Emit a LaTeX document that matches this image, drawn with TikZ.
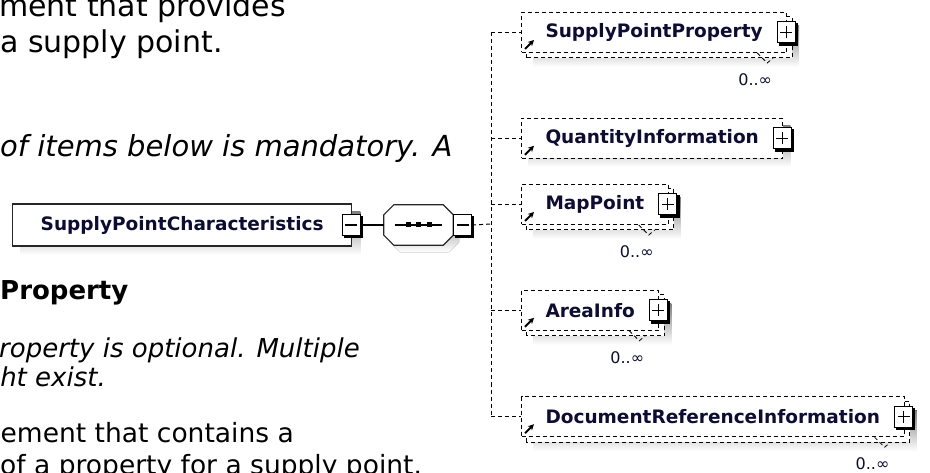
\documentclass[tikz,border=0pt]{standalone}
\usepackage{fontspec}
\setmainfont{DejaVu Sans}
\usetikzlibrary{positioning,arrows.meta,backgrounds,calc}
\definecolor{ink}{RGB}{12,12,52}
\definecolor{shade}{RGB}{192,192,192}
\newcommand{\px}[1]{\fontsize{#1}{#1}\selectfont}
\newcommand{\octpath}[1]{([xshift=10pt]#1.north west) -- ([xshift=-10pt]#1.north east)
  -- ([yshift=-10pt]#1.north east) -- ([yshift=10pt]#1.south east) -- ([xshift=-10pt]#1.south east)
  -- ([xshift=10pt]#1.south west) -- ([yshift=10pt]#1.south west) -- ([yshift=-10pt]#1.north west) -- cycle}
\tikzset{
  txt/.style={inner sep=0pt, font=\px{26.5}},
  lead/.style={inner sep=0pt, font=\px{30}},
  note/.style={inner sep=0pt, font=\px{26}\itshape},
  head/.style={inner sep=0pt, font=\px{26}\bfseries},
  elem/.style={draw, line width=1pt, dash pattern=on 4pt off 3pt, fill=white, text=ink,
    font=\px{18.5}\bfseries, inner xsep=24pt, inner ysep=0pt, minimum height=40pt, anchor=west},
  back/.style={draw, line width=1pt, dash pattern=on 4pt off 3pt, fill=white},
  decl/.style={draw=black!85, line width=1.3pt, fill=white, text=ink, font=\px{18.5}\bfseries,
    minimum width=339pt, minimum height=42pt, inner sep=0pt, anchor=west},
  seqbox/.style={minimum width=69pt, minimum height=40pt, inner sep=0pt},
  togg/.style={draw, line width=1pt, fill=white, minimum width=18pt, minimum height=21pt, inner sep=0pt},
  plusbox/.style={togg, path picture={
    \draw[line width=1.1pt] ([xshift=-6pt]path picture bounding box.center) -- ([xshift=6pt]path picture bounding box.center)
      ([yshift=-6pt]path picture bounding box.center) -- ([yshift=6pt]path picture bounding box.center);}},
  minusbox/.style={togg, path picture={
    \draw[line width=1.1pt] ([xshift=-6pt]path picture bounding box.center) -- ([xshift=6pt]path picture bounding box.center);}},
  wire/.style={line width=1.2pt},
  link/.style={line width=1pt, dash pattern=on 4pt off 3pt},
  ref/.style={-{Stealth[length=6pt, width=6pt]}, line width=2pt},
  mult/.style={text=ink, font=\px{16}, inner sep=0pt},
}
\begin{document}
\begin{tikzpicture}[x=1pt, y=1pt]
  \useasboundingbox (0,0) rectangle (930,472);
  \clip (0,0) rectangle (930,472);
  % text beside the diagram
  \node[lead, anchor=base east] (t1) at (286,455) {ment that provides};
  \node[lead, anchor=base west] (t2) at (0,419) {a supply point.};
  \node[note, font=\px{29}\itshape, anchor=base west] (t3) at (0,315) {of items below is mandatory. A};
  \node[head, anchor=base west] (t4) at (0,172) {Property};
  \node[note, anchor=base east] (t5) at (360,114) {roperty is optional. Multiple};
  \node[note, anchor=base east] (t6) at (106,86) {ht exist.};
  \node[txt, anchor=base east] (t7) at (294,30) {ement that contains a};
  \node[txt, anchor=base west] (t8) at (0,-2) {of a property for a supply point.};

  % the element and its sequence
  \node[decl] (main) at (12,247) {SupplyPointCharacteristics};
  \node[minusbox] (mainm) at ([xshift=-1pt]main.east) {};
  \node[seqbox, right=23pt of mainm] (seq) {};
  \draw[wire, draw=black!85, fill=white] \octpath{seq};
  \node[minusbox, anchor=west] (seqm) at (seq.east) {};
  \coordinate (bus) at (491,248);

  % children
  \node[elem] (spp) at (521,439.5) {SupplyPointProperty};
  \node[elem] (qi) at (521,333.7) {QuantityInformation};
  \node[elem] (mp) at (521,267.5) {MapPoint};
  \node[elem] (ai) at (521,161.7) {AreaInfo};
  \node[elem] (dri) at (521,55.3) {DocumentReferenceInformation};

  \draw[wire] (mainm.east) -- (seq.west);
  \draw[wire] ([xshift=-24pt]seq.center) -- ([xshift=23pt]seq.center);
  \foreach \dx in {-10.5,0,10.5}
    \fill ($(seq.center)+(\dx-2.5,-2.5)$) rectangle ++(5,5);
  \draw[link] (seqm.east) -- (bus);
  \draw[link] (spp.west -| bus) -- (dri.west -| bus);

  \foreach \n in {spp,qi,mp,ai,dri} {
    \node[plusbox] (\n-x) at ([xshift=-1pt]\n.east) {};
    \draw[link] (\n.west -| bus) -- (\n.west);
    \draw[ref] ($(\n.south west)+(4,4)$) -- ++(9,9);
  }
  \foreach \b in {mainm,seqm,spp-x,qi-x,mp-x,ai-x,dri-x}
    \draw[line width=2.5pt] ($(\b.north east)+(1,-2)$) |- ($(\b.south west)+(2,-1)$);

  \foreach \n in {spp,mp,ai,dri} {
    \draw[link, line width=0.8pt] ($(\n.south east)+(-30,0)$) -- ++(10,-10) -- ++(6,5);
    \node[mult] (\n-m) at ($(\n.south east)+(-32,-26.5)$) {0..∞};
  }

  % shadows and the copies behind repeated children
  \begin{scope}[on background layer]
    \foreach \n in {spp,mp,ai,dri} {
      \fill[shade] ($(\n.south west)+(12,-14)$) rectangle ($(\n.north east)+(12,-14)$);
      \draw[back] ($(\n.south west)+(5,-5)$) rectangle ($(\n.north east)+(5,-5)$);
    }
    \foreach \n/\dx/\dy in {qi/7/-8,main/8/-8}
      \fill[shade] ($(\n.south west)+(\dx,\dy)$) rectangle ($(\n.north east)+(\dx,\dy)$);
    \begin{scope}[transform canvas={shift={(6pt,-7pt)}}]
      \fill[shade] \octpath{seq};
    \end{scope}
  \end{scope}
\end{tikzpicture}
\end{document}
